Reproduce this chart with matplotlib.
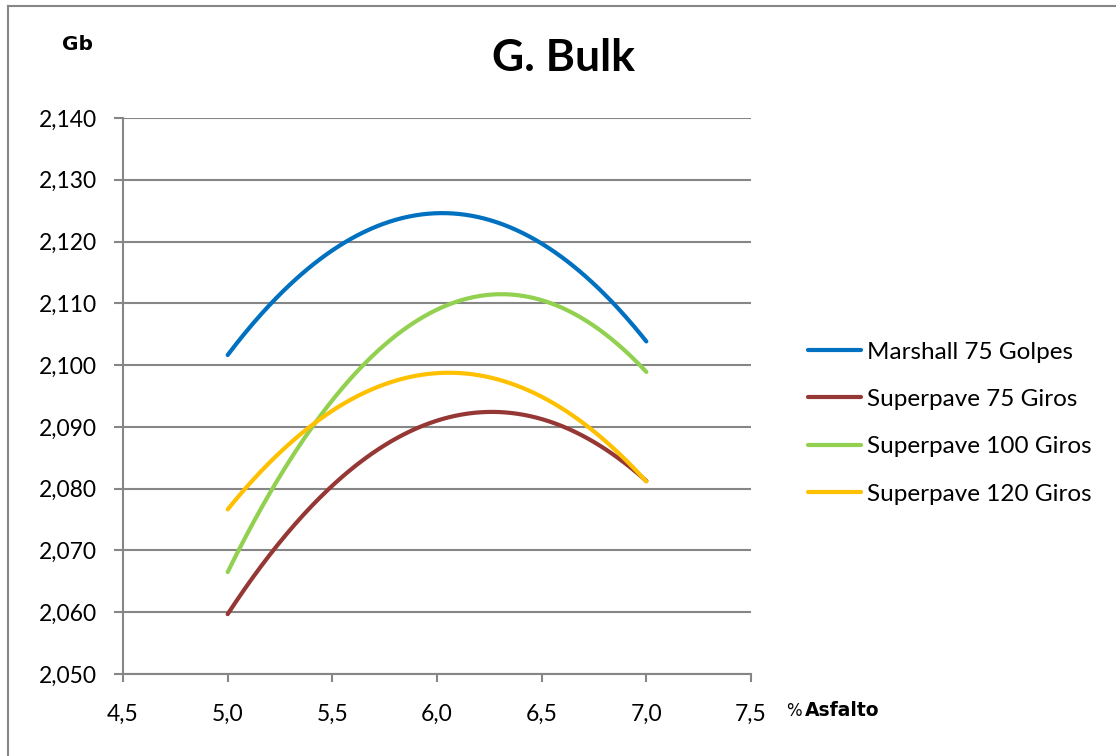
import numpy as np
import matplotlib
matplotlib.use("Agg")
import matplotlib.pyplot as plt
from matplotlib.lines import Line2D
from matplotlib.ticker import FixedLocator

plt.rcParams["font.family"] = ["Lato", "DejaVu Sans"]

# Asphalt content (%) and bulk specific gravity for each compaction method
asfalto = [5.0, 5.5, 6.0, 6.5, 7.0]
marshall_75 = [2.1018, 2.1182, 2.1247, 2.1199, 2.1037]
superpave_75 = [2.0599, 2.0800, 2.0912, 2.0915, 2.0811]
superpave_100 = [2.0665, 2.0943, 2.1090, 2.1105, 2.0989]
superpave_120 = [2.0767, 2.0925, 2.0987, 2.0950, 2.0811]

series_names = ["Marshall 75 Golpes", "Superpave 75 Giros",
                "Superpave 100 Giros", "Superpave 120 Giros"]
series_colors = ["#0070C0", "#953735", "#92D050", "#FFC000"]

x_ticks = [4.5, 5.0, 5.5, 6.0, 6.5, 7.0, 7.5]
x_labels = ["4,5", "5,0", "5,5", "6,0", "6,5", "7,0", "7,5"]
y_ticks = [2.050, 2.060, 2.070, 2.080, 2.090, 2.100, 2.110, 2.120, 2.130, 2.140]
y_labels = ["2,050", "2,060", "2,070", "2,080", "2,090", "2,100",
            "2,110", "2,120", "2,130", "2,140"]

fig = plt.figure(figsize=(11.16, 7.56), dpi=100)
ax = fig.add_axes([123 / 1116, 1 - 674 / 756, (751 - 123) / 1116, (674 - 118) / 756])

grid_color = "#868686"
all_series = [marshall_75, superpave_75, superpave_100, superpave_120]
for vals, color in zip(all_series, series_colors):
    # second-order polynomial trend line through each series
    coef = np.polyfit(asfalto, vals, 2)
    sx = np.linspace(asfalto[0], asfalto[-1], 200)
    ax.plot(sx, np.polyval(coef, sx), color=color, lw=3.0,
            solid_capstyle="round", zorder=3)

ax.set_xlim(4.5, 7.5)
ax.set_ylim(2.050, 2.140)
ax.xaxis.set_major_locator(FixedLocator(x_ticks))
ax.set_xticklabels(x_labels)
ax.yaxis.set_major_locator(FixedLocator(y_ticks))
ax.set_yticklabels(y_labels)
ax.yaxis.grid(True, color=grid_color, lw=1.5)
ax.set_axisbelow(True)
for side in ("top", "right"):
    ax.spines[side].set_visible(False)
for side in ("left", "bottom"):
    ax.spines[side].set_color(grid_color)
    ax.spines[side].set_linewidth(1.5)
ax.tick_params(axis="y", direction="out", length=6.5, width=1.5, color=grid_color,
               labelsize=16.5, pad=12)
ax.tick_params(axis="x", direction="out", length=5.5, width=1.5, color=grid_color,
               labelsize=16.5, pad=16)

# Titles and axis captions
fig.text(563 / 1116, 1 - 58 / 756, "G. Bulk", ha="center", va="center",
         fontsize=32, fontweight="bold")
fig.text(78 / 1116, 1 - 44 / 756, "Gb", ha="center", va="center",
         fontsize=14.5, fontweight="bold", family="DejaVu Sans")
fig.text(786 / 1116, 1 - 711 / 756, "%", ha="left", va="center", fontsize=12,
         family="DejaVu Sans")
fig.text(805 / 1116, 1 - 711 / 756, "Asfalto", ha="left", va="center",
         fontsize=13.5, fontweight="bold", family="DejaVu Sans")

# Legend
handles = [Line2D([], [], color=c, lw=3.0, solid_capstyle="round") for c in series_colors]
fig.legend(handles, series_names, loc="upper left",
           bbox_to_anchor=(798 / 1116, 1 - 332 / 756), frameon=False,
           fontsize=17.5, handlelength=2.2, handletextpad=0.25,
           labelspacing=1.08, borderaxespad=0)

# Chart frame (top and left edges)
fig.add_artist(Line2D([8 / 1116, 8 / 1116], [0, 1 - 6 / 756],
                      transform=fig.transFigure, color=grid_color, lw=1.5))
fig.add_artist(Line2D([8 / 1116, 1], [1 - 6 / 756, 1 - 6 / 756],
                      transform=fig.transFigure, color=grid_color, lw=1.5))

fig.savefig("out.png", dpi=100, facecolor="white")
